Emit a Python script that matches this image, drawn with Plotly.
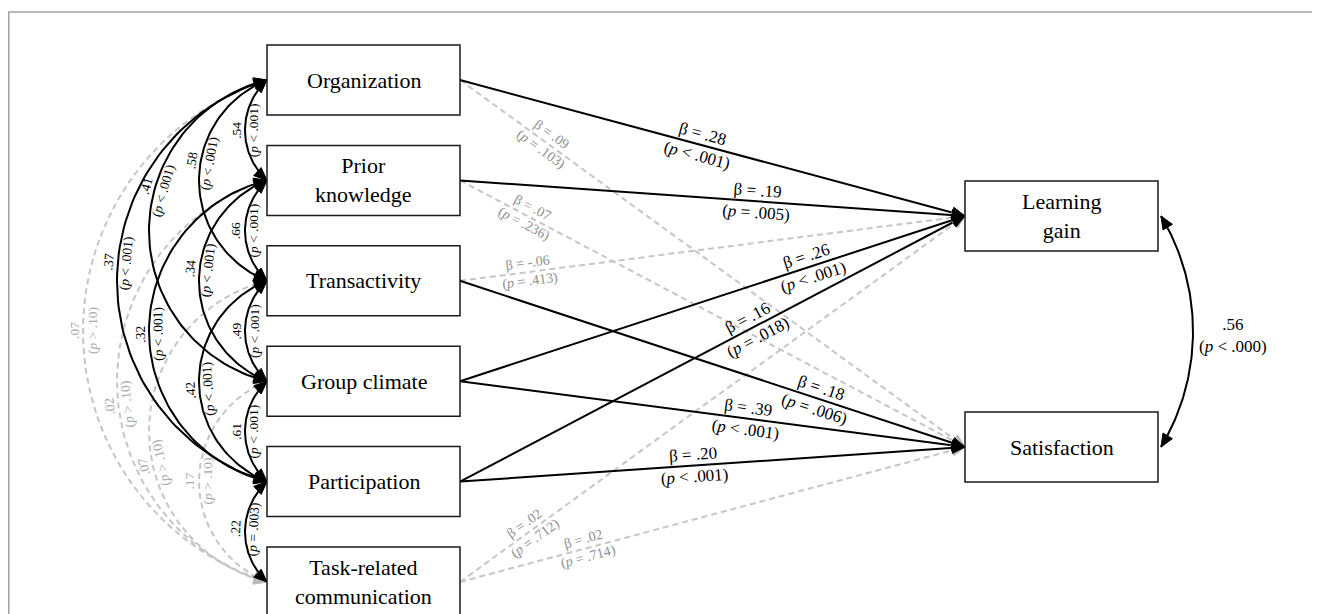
import math
import plotly.graph_objects as go

# ---------------- data ----------------
predictors = ["Organization", "Prior<br>knowledge", "Transactivity",
              "Group climate", "Participation", "Task-related<br>communication"]
outcomes = ["Learning<br>gain", "Satisfaction"]

# correlations among predictors
corr_from = [0, 0, 0, 0, 0, 1, 1, 1, 1, 2, 2, 2, 3, 3, 4]
corr_to   = [1, 2, 3, 4, 5, 2, 3, 4, 5, 3, 4, 5, 4, 5, 5]
corr_r    = [".54", ".58", ".41", ".37", ".07", ".66", ".34", ".32", ".02",
             ".49", ".42", ".07", ".61", ".17", ".22"]
corr_p    = ["< .001", "< .001", "< .001", "< .001", "> .10", "< .001", "< .001",
             "< .001", "> .10", "< .001", "< .001", "> .10", "< .001", "> .10", "= .003"]
corr_sig  = [True, True, True, True, False, True, True, True, False,
             True, True, False, True, False, True]

# structural paths predictor -> outcome
path_from = [0, 1, 3, 4, 2, 5, 2, 3, 4, 0, 1, 5]
path_to   = [0, 0, 0, 0, 0, 0, 1, 1, 1, 1, 1, 1]
path_beta = [".28", ".19", ".26", ".16", "-.06", ".02", ".18", ".39", ".20", ".09", ".07", ".02"]
path_p    = ["< .001", "= .005", "< .001", "= .018", "= .413", "= .712",
             "= .006", "< .001", "< .001", "= .103", "= .236", "= .714"]
path_sig  = [True, True, True, True, False, False, True, True, True, False, False, False]

# residual correlation between outcomes
outcome_r = ".56"
outcome_p = "< .000"

# ---------------- layout geometry / style ----------------
W, H = 1320, 614
OFF = 8  # page body margin: data coordinates == page pixels
LX0, LX1 = 267, 460
BOX_H = 70
L_TOP0, L_STEP = 45, 100.4
RX0, RX1 = 965, 1158
R_TOPS = [181, 412]

BULGE = {1: 22, 2: 68, 3: 118, 4: 150, 5: 184}
corr_label_f = [0.5, 0.41, 0.36, 0.455, 0.5, 0.5, 0.445, 0.51, 0.56,
                0.5, 0.54, 0.61, 0.5, 0.5, 0.47]
path_label_t = [0.475, 0.588, 0.693, 0.58, 0.137, 0.139,
                0.709, 0.568, 0.463, 0.17, 0.135, 0.25]

FONT = "Liberation Serif, Times New Roman, serif"
BLACK = "#000000"
GRAY_LINE = "#c6c6c6"
GRAY_HEAD = "#bcbcbc"
GRAY_TEXT = "#8e8e8e"
GRAY_CTEXT = "#a8a8a8"

l_tops = [L_TOP0 + i * L_STEP for i in range(len(predictors))]
l_cy = [t + BOX_H / 2 for t in l_tops]
r_cy = [t + BOX_H / 2 for t in R_TOPS]

fig = go.Figure()
annotations = []


def arrowhead(tx, ty, ux, uy, color, L=13, w=5.5):
    n = math.hypot(ux, uy)
    ux, uy = ux / n, uy / n
    bx, by = tx - L * ux, ty - L * uy
    px, py = -uy, ux
    path = (f"M {tx},{ty} L {bx + w * px},{by + w * py} "
            f"L {bx - w * px},{by - w * py} Z")
    return dict(type="path", path=path, xref="x", yref="y",
                fillcolor=color, line=dict(color=color, width=1), layer="above")


def arc(x0, y1, y2, s, side, label_f):
    """circular arc between (x0,y1) and (x0,y2) bulging by s; side=-1 left, +1 right"""
    d = y2 - y1
    R = ((d / 2) ** 2 + s ** 2) / (2 * s)
    cy = (y1 + y2) / 2
    cxl = x0 - s + R
    alpha = math.asin(min(1.0, (d / 2) / R))
    th_top, th_bot = math.pi + alpha, math.pi - alpha

    def px(th):
        xl = cxl + R * math.cos(th)
        return xl if side < 0 else 2 * x0 - xl

    def tang(th):  # direction of increasing theta (upwards)
        dx, dy = -math.sin(th), math.cos(th)
        if side > 0:
            dx = -dx
        return dx, dy

    N = 80
    xs, ys = [], []
    for k in range(N + 1):
        th = th_top + (th_bot - th_top) * k / N
        xs.append(px(th))
        ys.append(cy + R * math.sin(th))
    top_dir = tang(th_top)
    dxb, dyb = tang(th_bot)
    bot_dir = (-dxb, -dyb)
    yl = y1 + label_f * d
    thl = math.pi - math.asin((yl - cy) / R)
    ldx, ldy = tang(thl)
    ang = math.degrees(math.atan2(ldy, ldx))
    return xs, ys, top_dir, bot_dir, (px(thl), yl, ang)


gray_heads, black_heads = [], []

# ---------- correlation arcs among predictors ----------
order = [i for i in range(len(corr_r)) if not corr_sig[i]] + \
        [i for i in range(len(corr_r)) if corr_sig[i]]
for i in order:
    a, b = corr_from[i], corr_to[i]
    y1, y2 = l_cy[a], l_cy[b]
    xs, ys, tdir, bdir, (xl, yl, ang) = arc(LX0, y1, y2, BULGE[b - a], -1, corr_label_f[i])
    sig = corr_sig[i]
    fig.add_trace(go.Scatter(
        x=xs, y=ys, mode="lines", hoverinfo="skip", showlegend=False,
        line=dict(color=BLACK if sig else GRAY_LINE, width=2,
                  dash="solid" if sig else "6px,4px")))
    heads = black_heads if sig else gray_heads
    hc = BLACK if sig else GRAY_HEAD
    heads.append(arrowhead(LX0, y1, tdir[0], tdir[1], hc))
    heads.append(arrowhead(LX0, y2, bdir[0], bdir[1], hc))
    annotations.append(dict(
        x=xl, y=yl, xref="x", yref="y", showarrow=False, textangle=ang,
        text=f"{corr_r[i]}<br>(<i>p</i> {corr_p[i]})",
        font=dict(family=FONT, size=13.5, color=BLACK if sig else GRAY_CTEXT),
        xanchor="center", yanchor="middle"))

# ---------- structural paths ----------
porder = [i for i in range(len(path_beta)) if not path_sig[i]] + \
         [i for i in range(len(path_beta)) if path_sig[i]]
for i in porder:
    sx, sy = LX1, l_cy[path_from[i]]
    ex, ey = RX0, r_cy[path_to[i]]
    sig = path_sig[i]
    fig.add_trace(go.Scatter(
        x=[sx, ex], y=[sy, ey], mode="lines", hoverinfo="skip", showlegend=False,
        line=dict(color=BLACK if sig else GRAY_LINE, width=2,
                  dash="solid" if sig else "6px,4px")))
    heads = black_heads if sig else gray_heads
    heads.append(arrowhead(ex, ey, ex - sx, ey - sy, BLACK if sig else GRAY_HEAD))
    t = path_label_t[i]
    lx, ly = sx + t * (ex - sx), sy + t * (ey - sy)
    ang = math.degrees(math.atan2(ey - sy, ex - sx))
    annotations.append(dict(
        x=lx, y=ly, xref="x", yref="y", showarrow=False, textangle=ang,
        text=f"β = {path_beta[i]}<br>(<i>p</i> {path_p[i]})",
        font=dict(family=FONT, size=17 if sig else 14, color=BLACK if sig else GRAY_TEXT),
        xanchor="center", yanchor="middle"))

# ---------- outcome residual correlation ----------
RA = RX1 + 3
xs, ys, tdir, bdir, _ = arc(RA, r_cy[0], r_cy[1], 32, 1, 0.5)
fig.add_trace(go.Scatter(x=xs, y=ys, mode="lines", hoverinfo="skip", showlegend=False,
                         line=dict(color=BLACK, width=2)))
black_heads.append(arrowhead(RA, r_cy[0], tdir[0], tdir[1], BLACK))
black_heads.append(arrowhead(RA, r_cy[1], bdir[0], bdir[1], BLACK))
annotations.append(dict(
    x=1233, y=(r_cy[0] + r_cy[1]) / 2 + 4, xref="x", yref="y", showarrow=False,
    text=f"{outcome_r}<br>(<i>p</i> {outcome_p})",
    font=dict(family=FONT, size=17, color=BLACK), xanchor="center", yanchor="middle"))

# ---------- boxes ----------
box_shapes = []
for i, name in enumerate(predictors):
    box_shapes.append(dict(type="rect", xref="x", yref="y", x0=LX0, x1=LX1,
                           y0=l_tops[i], y1=l_tops[i] + BOX_H,
                           line=dict(color="#1a1a1a", width=1.5), fillcolor="white",
                           layer="above"))
    annotations.append(dict(x=(LX0 + LX1) / 2, y=l_cy[i], xref="x", yref="y",
                            showarrow=False, text=name,
                            font=dict(family=FONT, size=22, color=BLACK)))
for i, name in enumerate(outcomes):
    box_shapes.append(dict(type="rect", xref="x", yref="y", x0=RX0, x1=RX1,
                           y0=R_TOPS[i], y1=R_TOPS[i] + BOX_H,
                           line=dict(color="#1a1a1a", width=1.5), fillcolor="white",
                           layer="above"))
    annotations.append(dict(x=(RX0 + RX1) / 2, y=r_cy[i], xref="x", yref="y",
                            showarrow=False, text=name,
                            font=dict(family=FONT, size=22, color=BLACK)))

# frame (top and left edges of the figure panel)
frame = [
    dict(type="line", xref="x", yref="y", x0=8.8, x1=8.8, y0=12, y1=H + 10,
         line=dict(color="#a0a0a0", width=1.5), layer="below"),
    dict(type="line", xref="x", yref="y", x0=8, x1=W + 10, y0=12, y1=12,
         line=dict(color="#a0a0a0", width=1.5), layer="below"),
]

fig.update_layout(
    width=W - OFF, height=H - OFF, margin=dict(l=0, r=0, t=0, b=0),
    paper_bgcolor="white", plot_bgcolor="white",
    xaxis=dict(range=[OFF, W], visible=False, fixedrange=True),
    yaxis=dict(range=[H, OFF], visible=False, fixedrange=True),
    shapes=frame + gray_heads + black_heads + box_shapes,
    annotations=annotations, showlegend=False,
)

fig.write_html("out.html")
